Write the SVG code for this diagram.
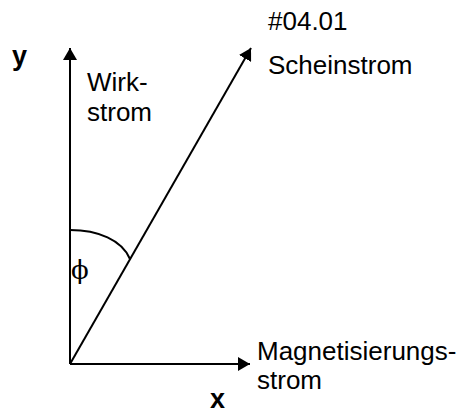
<svg xmlns="http://www.w3.org/2000/svg" width="461" height="414" viewBox="0 0 461 414">
<defs>
<style>
.ax{stroke:#000;stroke-width:2;fill:none}
.t{font-family:"Liberation Sans",Arial,sans-serif;font-size:26px;fill:#000}
.b{font-family:"Liberation Sans",Arial,sans-serif;font-size:27px;font-weight:bold;fill:#000}
</style>
<marker id="ah" viewBox="0 -7 12 14" refX="12" refY="0" markerWidth="12" markerHeight="14" markerUnits="userSpaceOnUse" orient="auto">
<path d="M0,-7 L12,0 L0,7 z" fill="#000"/>
</marker>
</defs>
<rect width="461" height="414" fill="#fff"/>
<g id="connectors">
<line class="ax" x1="70" y1="364" x2="70" y2="48" marker-end="url(#ah)"/>
<line class="ax" x1="70" y1="364" x2="250" y2="364" marker-end="url(#ah)"/>
<line class="ax" x1="70" y1="364" x2="251" y2="48" marker-end="url(#ah)"/>
<path id="angle-arc" class="ax" d="M70,230 C98,230 122,240 130,259"/>
</g>
<g id="label-y"><text class="b" x="12" y="65">y</text></g>
<g id="label-x"><text class="b" x="210" y="408">x</text></g>
<g id="wirkstrom"><text class="t" x="87" y="91">Wirk-</text><text class="t" x="87" y="121">strom</text></g>
<g id="scheinstrom"><text class="t" x="268" y="30">#04.01</text><text class="t" x="268" y="74">Scheinstrom</text></g>
<g id="magnetisierungsstrom"><text class="t" x="257" y="360">Magnetisierungs-</text><text class="t" x="257" y="389">strom</text></g>
<g id="phi"><text x="71" y="279" font-family="'DejaVu Serif','Liberation Serif',serif" font-size="26">ϕ</text></g>
</svg>
